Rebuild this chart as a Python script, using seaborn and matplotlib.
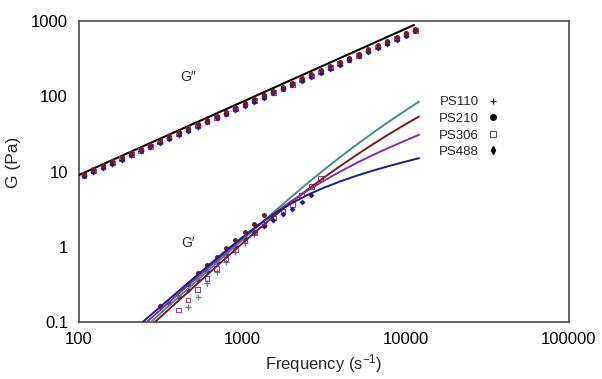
import matplotlib
matplotlib.use("Agg")
import matplotlib.pyplot as plt
import seaborn as sns
import pandas as pd
from matplotlib.lines import Line2D
from matplotlib.ticker import FixedLocator, FixedFormatter, NullLocator

# ---------------- data ----------------
series = ["PS110", "PS210", "PS306", "PS488"]
line_colors = {"PS110": "#3f8f8c", "PS210": "#7b1c1c", "PS306": "#8b2c9e", "PS488": "#1c1c8c"}

x_ticks = [100, 1000, 10000, 100000]
x_ticklabels = ["100", "1000", "10000", "100000"]
y_ticks = [0.1, 1, 10, 100, 1000]
y_ticklabels = ["0.1", "1", "10", "100", "1000"]

# measured frequencies (s^-1)
freq = [107.2, 122.5, 140.0, 159.9, 182.8, 208.9, 238.8, 272.9, 311.9, 356.5,
        407.4, 465.6, 532.1, 608.1, 695.0, 794.3, 907.8, 1037.5, 1185.8, 1355.2,
        1548.8, 1770.1, 2023.0, 2312.1, 2642.4, 3019.9, 3451.4, 3944.6, 4508.2, 5152.3,
        5888.4, 6729.8, 7691.3, 8790.2, 10046, 11482]

# G'' data (Pa)
gpp_ps210 = [9.39, 10.66, 12.09, 13.73, 15.58, 17.68, 20.06, 22.77, 25.84, 29.33,
             33.29, 37.77, 42.87, 48.65, 55.21, 62.66, 71.11, 80.70, 91.58, 103.9,
             117.9, 133.9, 151.9, 172.4, 195.6, 222.0, 251.9, 286.0, 324.6, 368.4,
             418.1, 474.5, 538.4, 611.1, 693.4, 787.0]
gpp_ps488 = [8.67, 9.84, 11.16, 12.67, 14.38, 16.32, 18.52, 21.02, 23.85, 27.07,
             30.73, 34.86, 39.57, 44.90, 50.96, 57.84, 65.63, 74.49, 84.53, 95.9,
             108.8, 123.6, 140.2, 159.1, 180.5, 204.9, 232.5, 264.0, 299.6, 340.0,
             385.9, 438.0, 496.9, 564.0, 640.0, 726.4]
gpp_ps306 = [8.92, 10.13, 11.49, 13.04, 14.80, 16.80, 19.06, 21.63, 24.55, 27.86,
             31.63, 35.88, 40.73, 46.22, 52.45, 59.53, 67.55, 76.67, 87.00, 98.7,
             112.0, 127.2, 144.3, 163.8, 185.8, 210.9, 239.3, 271.7, 308.4, 350.0,
             397.2, 450.8, 511.5, 580.5, 658.7, 747.7]
gpp_ps110 = [9.06, 10.29, 11.67, 13.25, 15.03, 17.06, 19.36, 21.97, 24.94, 28.30,
             32.12, 36.45, 41.37, 46.95, 53.28, 60.47, 68.62, 77.88, 88.37, 100.3,
             113.8, 129.2, 146.6, 166.4, 188.8, 214.2, 243.1, 276.0, 313.2, 355.5,
             403.5, 457.9, 519.6, 589.7, 669.1, 759.5]

# G' data (Pa)
gp_ps210_f = [311.9, 356.5, 407.4, 465.6, 532.1, 608.1, 695.0, 794.3, 907.8, 1037.5, 1185.8, 1355.2]
gp_ps210 = [0.163, 0.181, 0.217, 0.316, 0.453, 0.566, 0.723, 0.953, 1.23, 1.585, 2.00, 2.62]
gp_ps110_f = [465.6, 532.1, 608.1, 695.0, 794.3, 907.8, 1037.5, 1185.8, 1355.2]
gp_ps110 = [0.157, 0.217, 0.327, 0.467, 0.633, 0.86, 1.11, 1.48, 1.95]
gp_ps306_f = [407.4, 465.6, 532.1, 608.1, 695.0, 794.3, 907.8, 1037.5, 1185.8, 1355.2,
              1548.8, 1770.1, 2023.0, 2312.1, 2642.4, 3019.9]
gp_ps306 = [0.144, 0.196, 0.272, 0.38, 0.516, 0.69, 0.91, 1.2, 1.55, 1.98,
            2.40, 2.95, 3.63, 4.90, 6.31, 8.13]
gp_ps488_f = [465.6, 532.1, 608.1, 695.0, 794.3, 907.8, 1037.5, 1185.8, 1355.2,
              1548.8, 1770.1, 2023.0, 2312.1, 2642.4]
gp_ps488 = [0.27, 0.36, 0.48, 0.63, 0.81, 1.03, 1.29, 1.58, 1.91, 2.26, 2.70, 3.14, 3.97, 4.88]

# model fits
fit_gpp_f = [100, 1000, 11250]
fit_gpp = [8.99, 84.2, 885]
fit_grid = [316.2, 398.1, 501.2, 631.0, 794.3, 1000, 1258.9, 1584.9, 1995.3, 2511.9,
            3162.3, 3981.1, 5011.9, 6309.6, 7943.3, 10000, 12078]
fit_ps110_f = [245, 275.4] + fit_grid
fit_ps110 = [0.080, 0.100, 0.131, 0.205, 0.321, 0.504, 0.789, 1.233, 1.923, 2.985, 4.603,
             7.015, 10.54, 15.60, 22.75, 32.73, 46.45, 65.01, 84.92]
fit_ps210_f = [260, 291.7] + fit_grid
fit_ps210 = [0.080, 0.100, 0.117, 0.184, 0.289, 0.454, 0.711, 1.109, 1.714, 2.612, 3.917,
             5.768, 8.337, 11.83, 16.63, 23.07, 31.55, 42.56, 53.83]
fit_ps306_f = [232, 260.0] + fit_grid
fit_ps306 = [0.080, 0.100, 0.146, 0.228, 0.354, 0.548, 0.845, 1.291, 1.936, 2.825, 4.036,
             5.598, 7.551, 10.0, 13.00, 16.60, 20.80, 25.88, 30.76]
fit_ps488_f = [218, 245.5] + fit_grid
fit_ps488 = [0.080, 0.100, 0.161, 0.247, 0.379, 0.582, 0.887, 1.337, 1.968, 2.780, 3.758,
             4.898, 6.095, 7.396, 8.790, 10.28, 11.86, 13.55, 15.03]

# ---------------- style ----------------
sns.set_style("white")
plt.rcParams["font.family"] = ["Liberation Sans", "DejaVu Sans"]
plt.rcParams["mathtext.fontset"] = "custom"
plt.rcParams["mathtext.rm"] = "Liberation Sans"
plt.rcParams["mathtext.it"] = "Liberation Sans"

fig = plt.figure(figsize=(6.02, 3.79), dpi=100)
ax = fig.add_axes([79 / 602, 57 / 379, 490 / 602, 301 / 379])

# fits
fit_df = pd.concat([
    pd.DataFrame({"f": fit_ps110_f, "G": fit_ps110, "s": "PS110"}),
    pd.DataFrame({"f": fit_ps210_f, "G": fit_ps210, "s": "PS210"}),
    pd.DataFrame({"f": fit_ps306_f, "G": fit_ps306, "s": "PS306"}),
    pd.DataFrame({"f": fit_ps488_f, "G": fit_ps488, "s": "PS488"}),
])
for s in series:
    d = fit_df[fit_df.s == s]
    sns.lineplot(x=d.f, y=d.G, ax=ax, color=line_colors[s], lw=1.4,
                 sort=False, estimator=None, zorder=3)
sns.lineplot(x=fit_gpp_f, y=fit_gpp, ax=ax, color="black", lw=1.5,
             estimator=None, zorder=3)

# data markers
marker_style = {
    "PS110": dict(marker="+", color="#3f8f8c", s=20, linewidth=0.9),
    "PS306": dict(marker="s", facecolor="none", edgecolor="#9b3cab", s=11, linewidth=0.8),
    "PS488": dict(marker="D", color="#1c1c8c", s=9, linewidth=0),
    "PS210": dict(marker="o", color="#7a1a1a", s=13, linewidth=0),
}
gpp_data = {"PS110": gpp_ps110, "PS306": gpp_ps306, "PS488": gpp_ps488, "PS210": gpp_ps210}
gp_data = {"PS110": (gp_ps110_f, gp_ps110), "PS306": (gp_ps306_f, gp_ps306),
           "PS488": (gp_ps488_f, gp_ps488), "PS210": (gp_ps210_f, gp_ps210)}
for s in ["PS110", "PS306", "PS488", "PS210"]:
    sns.scatterplot(x=freq, y=gpp_data[s], ax=ax, zorder=4, **marker_style[s])
    sns.scatterplot(x=gp_data[s][0], y=gp_data[s][1], ax=ax, zorder=2, **marker_style[s])

ax.set_xscale("log")
ax.set_yscale("log")
ax.set_xlim(100, 100000)
ax.set_ylim(0.1, 1000)

ax.xaxis.set_major_locator(FixedLocator(x_ticks))
ax.xaxis.set_major_formatter(FixedFormatter(x_ticklabels))
ax.yaxis.set_major_locator(FixedLocator(y_ticks))
ax.yaxis.set_major_formatter(FixedFormatter(y_ticklabels))
ax.xaxis.set_minor_locator(NullLocator())
ax.yaxis.set_minor_locator(NullLocator())
ax.tick_params(axis="both", which="major", direction="in", length=3, width=0.8,
               color="#c0c0c0", labelsize=12, labelcolor="black")
ax.tick_params(axis="x", pad=7)
ax.tick_params(axis="y", pad=8)

for sp in ax.spines.values():
    sp.set_color("#4a4a4a")
    sp.set_linewidth(1.2)
    sp.set_visible(True)

ax.set_xlabel("Frequency (s$^{-1}$)", fontsize=12, labelpad=4)
ax.set_ylabel("G (Pa)", fontsize=12.5)
ax.yaxis.set_label_coords(-0.118, 0.53)

ax.text(0.222, 0.813, "G\u2033", transform=ax.transAxes, fontsize=10,
        ha="center", va="center", family=["Liberation Sans", "DejaVu Sans"])
ax.text(0.222, 0.262, "G\u2032", transform=ax.transAxes, fontsize=10,
        ha="center", va="center", family=["Liberation Sans", "DejaVu Sans"])

handles = [
    Line2D([], [], ls="none", marker="+", color="black", markersize=5, mew=0.9),
    Line2D([], [], ls="none", marker="o", color="black", markersize=4),
    Line2D([], [], ls="none", marker="s", mfc="white", mec="#555555", markersize=4, mew=0.8),
    Line2D([], [], ls="none", marker="d", color="black", markersize=4),
]
ax.legend(handles, series, loc="upper left", bbox_to_anchor=(0.723, 0.768),
          frameon=False, markerfirst=False, fontsize=9.5, handlelength=0.8,
          handletextpad=0.7, labelspacing=0.33, borderaxespad=0)

fig.savefig("out.png", dpi=100)
